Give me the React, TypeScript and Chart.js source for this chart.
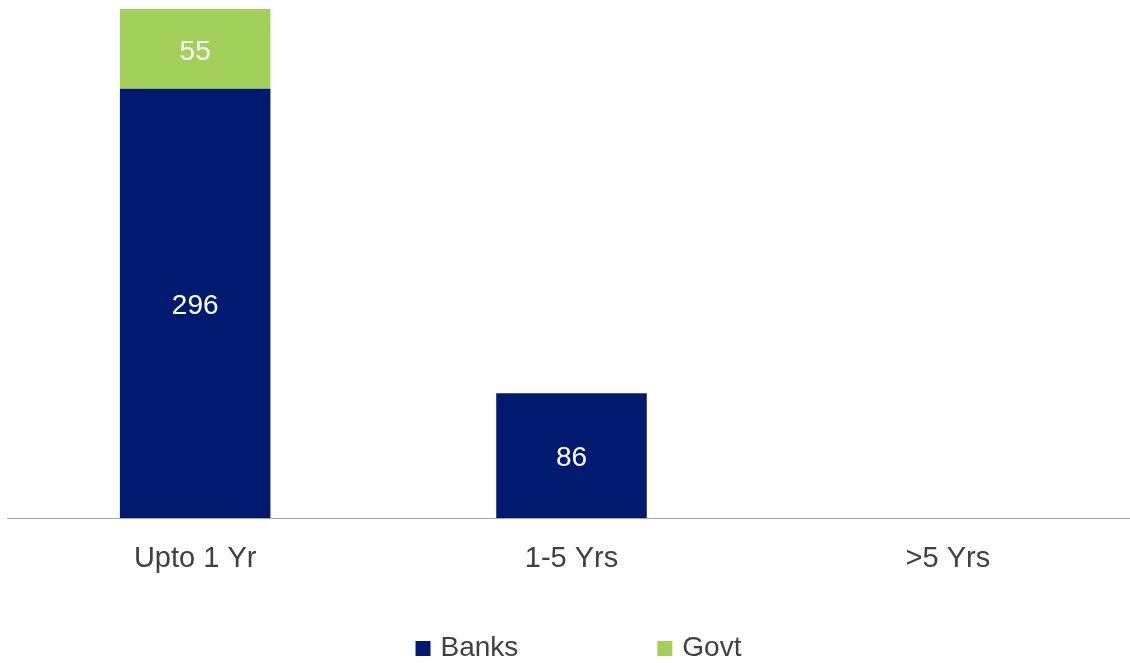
import React, { useEffect, useRef } from "react";
import { Chart, registerables } from "chart.js";

Chart.register(...registerables);

const categories = ["Upto 1 Yr", "1-5 Yrs", ">5 Yrs"];
const banksValues = [296, 86, 0];
const govtValues = [55, 0, 0];
const seriesNames = ["Banks", "Govt"];
const seriesColors = ["#001A70", "#A3CF5B"];
const yMax = 351;

const FONT = "'Liberation Sans', Arial, sans-serif";
const TEXT_COLOR = "#404040";

const dataLabelPlugin = {
  id: "barValueLabels",
  afterDatasetsDraw(chart: any) {
    const ctx = chart.ctx;
    ctx.save();
    ctx.font = `28px ${FONT}`;
    ctx.fillStyle = "#FFFFFF";
    ctx.textAlign = "center";
    ctx.textBaseline = "middle";
    chart.data.datasets.forEach((ds: any, di: number) => {
      const meta = chart.getDatasetMeta(di);
      meta.data.forEach((el: any, i: number) => {
        const v = ds.data[i];
        if (!v) return;
        const p = el.getProps(["x", "y", "base"], true);
        ctx.fillText(String(v), p.x, (p.y + p.base) / 2 + 3);
      });
    });
    ctx.restore();
  },
};

const legendPlugin = {
  id: "bottomLegend",
  afterDraw(chart: any) {
    const ctx = chart.ctx;
    const area = chart.chartArea;
    ctx.save();
    ctx.font = `28px ${FONT}`;
    const box = 15;
    const gap = 10;
    const spacing = 139;
    const items = chart.data.datasets.map((ds: any) => ({
      text: ds.label,
      color: ds.backgroundColor,
      w: ctx.measureText(ds.label).width,
    }));
    const total =
      items.reduce((s: number, it: any) => s + box + gap + it.w, 0) +
      spacing * (items.length - 1);
    let x = (area.left + area.right) / 2 - total / 2 + 7;
    const baseY = chart.height - 7;
    ctx.textAlign = "left";
    ctx.textBaseline = "alphabetic";
    items.forEach((it: any) => {
      ctx.fillStyle = it.color;
      ctx.fillRect(x, baseY - box, box, box);
      ctx.fillStyle = TEXT_COLOR;
      ctx.fillText(it.text, x + box + gap, baseY);
      x += box + gap + it.w + spacing;
    });
    ctx.restore();
  },
};

export default function App() {
  const canvasRef = useRef<HTMLCanvasElement | null>(null);

  useEffect(() => {
    if (!canvasRef.current) return;
    const chart = new Chart(canvasRef.current, {
      type: "bar",
      data: {
        labels: categories,
        datasets: [
          {
            label: seriesNames[0],
            data: banksValues,
            backgroundColor: seriesColors[0],
            borderWidth: 0,
            barPercentage: 0.4,
            categoryPercentage: 1,
          },
          {
            label: seriesNames[1],
            data: govtValues,
            backgroundColor: seriesColors[1],
            borderWidth: 0,
            barPercentage: 0.4,
            categoryPercentage: 1,
          },
        ],
      },
      options: {
        animation: false,
        responsive: true,
        maintainAspectRatio: false,
        layout: { padding: { left: 7, top: 9, right: 0, bottom: 0 } },
        plugins: {
          legend: { display: false },
          tooltip: { enabled: false },
        },
        scales: {
          x: {
            stacked: true,
            grid: { display: true, drawOnChartArea: false, drawTicks: false },
            border: { display: true, color: "#A6A6A6", width: 1 },
            ticks: {
              color: TEXT_COLOR,
              font: { family: FONT, size: 29 },
              padding: 24,
              maxRotation: 0,
              autoSkip: false,
            },
            afterFit(scale: any) {
              scale.height = 145;
            },
          },
          y: {
            stacked: true,
            display: false,
            min: 0,
            max: yMax,
          },
        },
      },
      plugins: [dataLabelPlugin, legendPlugin],
    });
    return () => chart.destroy();
  }, []);

  return (
    <div
      style={{
        position: "fixed",
        left: 0,
        top: 0,
        width: 1130,
        height: 663,
        overflow: "hidden",
        background: "#FFFFFF",
      }}
    >
      <div style={{ position: "relative", width: 1136, height: 663 }}>
        <canvas ref={canvasRef} />
      </div>
    </div>
  );
}
